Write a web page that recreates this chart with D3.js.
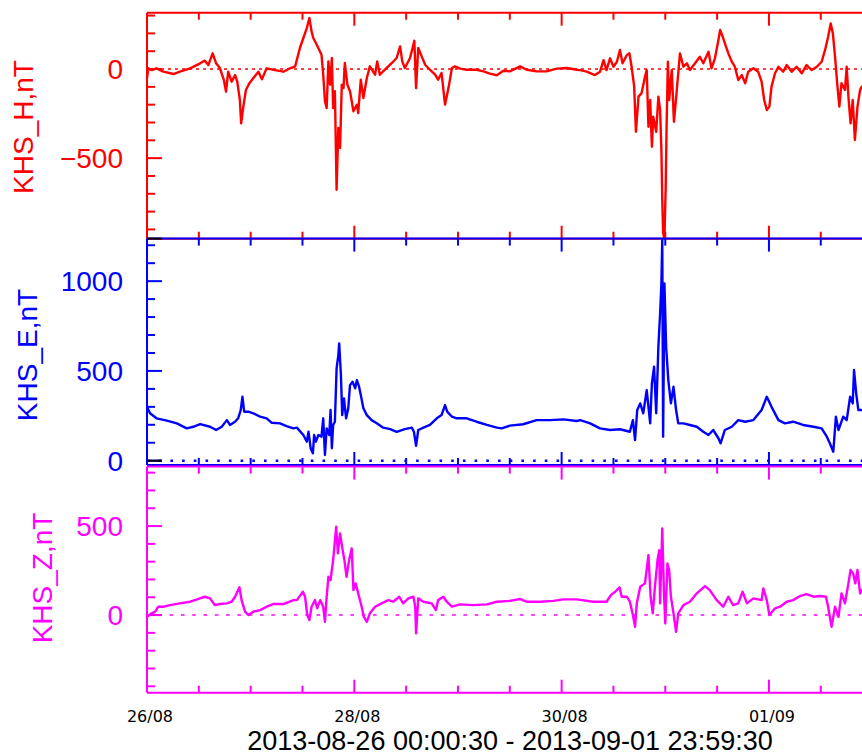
<!DOCTYPE html>
<html><head><meta charset="utf-8">
<script src="https://cdn.jsdelivr.net/npm/d3@7"></script>
<style>html,body{margin:0;padding:0;background:#fff;overflow:hidden}</style>
</head><body>
<svg id="chart" width="862" height="755"></svg>
<script>
// ---- data (hours since 2013-08-26 00:00 UTC, values in nT) ----
const hHours = [0.0,0.3,1.1,2.2,3.8,6.1,7.6,10.0,12.3,13.4,14.2,15.2,16.0,16.9,17.8,18.3,18.8,19.6,20.4,20.9,21.5,21.8,22.3,22.9,23.7,24.6,25.8,26.6,27.7,29.6,31.6,33.1,34.3,35.4,36.2,37.0,37.6,38.1,38.5,39.3,40.4,40.8,41.2,41.6,42.0,42.4,42.8,43.1,43.5,43.9,44.3,44.7,45.1,45.5,45.8,46.4,47.0,47.8,48.6,48.9,49.5,50.1,50.9,51.6,52.8,53.3,53.9,55.5,56.7,57.8,58.6,59.1,59.7,60.9,61.9,62.3,62.8,63.6,64.4,65.5,66.7,67.4,68.2,69.0,69.8,70.6,71.3,72.5,74.0,76.3,77.9,79.4,81.0,82.5,84.0,86.4,87.9,90.2,92.5,94.9,97.2,99.5,100.3,101.8,103.7,104.9,105.7,106.4,107.2,108.0,108.8,109.5,110.1,111.1,111.7,112.2,112.8,113.2,113.8,114.5,115.3,115.7,116.1,116.5,116.9,117.2,117.9,118.4,118.8,119.1,119.3,119.5,119.8,120.1,120.3,120.6,120.9,121.5,122.0,122.6,123.4,124.2,125.0,125.7,126.9,128.0,128.8,130.0,130.7,131.5,132.3,132.7,133.3,133.8,134.6,135.4,136.1,136.9,137.7,138.5,139.2,140.4,141.5,142.3,142.9,143.5,144.1,144.6,145.4,146.2,147.3,148.1,149.3,150.4,151.6,152.7,153.9,155.1,156.2,157.0,157.7,158.3,158.8,159.3,159.8,160.3,160.8,161.6,162.0,162.4,162.9,163.4,163.9,164.5,165.1,165.5,166.5,167.9];
const hValues = [-52,4,-6,4,-15,-28,-15,4,32,47,22,88,32,4,-62,-127,-15,-71,-34,-71,-174,-305,-211,-118,-80,-52,-15,-58,4,-6,-15,4,15,118,174,230,286,211,174,136,80,-32,-181,-219,43,-88,62,-219,-125,-677,-331,-443,-88,-107,34,-88,-125,-237,-200,-247,-60,-163,-50,15,-32,43,-32,6,34,62,127,43,6,62,159,-107,118,71,24,-4,-32,-60,-22,-200,-107,6,15,2,-4,-4,-13,-26,-35,-10,-13,15,-4,-13,-13,2,6,-4,-6,-15,-34,-15,50,-6,60,13,41,107,32,79,88,13,-99,-352,-155,-136,-43,-6,-324,-174,-436,-268,-352,-155,-230,-454,-735,-920,-952,-660,-324,41,-174,-6,-296,-136,88,13,32,-6,32,69,32,97,4,60,163,219,181,144,88,41,13,-62,-34,-80,-15,4,-15,-71,-174,-230,-211,-99,-24,13,-15,22,-15,13,-24,22,-6,13,41,107,181,256,200,69,-80,-211,-80,-118,13,-155,-305,-174,-398,-211,-118,-99,-90,-80];

const eHours = [0.0,0.7,2.2,4.6,6.9,9.2,10.7,12.3,14.6,16.0,17.3,18.5,19.2,20.4,21.1,21.7,22.1,22.5,23.5,24.6,26.2,27.7,28.9,30.8,32.3,33.9,34.7,36.2,37.0,37.4,37.9,38.4,38.7,39.1,39.7,40.4,40.8,41.2,41.6,42.2,42.5,42.8,43.1,43.5,43.9,44.3,44.5,44.9,45.2,45.6,46.1,46.6,47.0,47.6,48.2,48.6,49.1,49.5,50.1,50.9,52.0,53.2,54.7,56.3,57.8,59.7,61.3,61.8,62.3,62.8,64.0,65.5,67.1,68.2,69.0,69.5,70.6,71.7,74.0,76.3,78.7,81.0,82.1,84.0,87.1,90.2,93.3,96.4,99.5,100.3,102.6,104.9,107.2,109.5,111.8,112.5,113.0,113.5,114.2,114.9,115.7,116.5,116.9,117.4,117.9,118.4,118.8,119.1,119.3,119.5,119.8,120.2,120.7,121.3,121.9,122.5,123.0,124.2,125.7,127.3,128.8,130.0,131.1,132.3,132.8,133.8,135.4,136.9,138.5,140.4,142.3,143.5,144.6,146.2,147.7,149.6,151.9,154.3,156.2,157.4,158.1,158.9,159.5,160.1,161.2,162.0,162.8,163.4,163.7,164.2,164.7,165.5,167.0,168.0];
const eValues = [300,264,236,223,208,180,189,204,189,171,189,226,199,217,236,282,356,273,273,264,245,236,211,208,193,180,184,143,106,161,69,41,143,106,143,134,236,32,180,143,282,69,199,217,514,588,653,477,254,347,236,292,421,440,403,449,412,366,292,254,226,208,184,176,161,176,184,161,83,171,184,199,236,254,310,273,245,236,236,217,199,184,180,195,203,226,226,230,221,226,208,180,171,175,161,226,115,282,319,264,393,208,431,523,264,634,820,987,1230,134,987,634,449,319,412,282,208,208,199,189,161,143,171,125,97,171,189,226,217,226,282,356,300,226,208,217,199,189,180,134,97,50,245,171,245,226,356,319,505,375,282,282,260,250];

const zHours = [0.0,1.1,1.9,2.6,3.8,5.3,7.6,10.0,12.3,13.4,14.6,15.7,16.9,18.5,19.6,20.4,21.4,21.9,22.7,23.5,24.6,26.2,27.7,29.2,31.6,33.9,34.7,36.1,36.6,37.1,37.6,38.1,38.9,39.4,40.1,40.8,41.2,41.6,42.0,42.5,43.1,43.8,44.2,44.7,45.3,45.7,46.2,46.8,47.4,47.8,48.3,48.9,49.7,50.2,50.9,51.6,52.8,54.3,55.9,57.0,58.4,59.3,60.5,61.7,62.1,62.3,62.8,64.0,65.9,66.9,67.4,68.6,69.4,70.6,72.5,75.6,78.7,81.0,84.0,86.4,87.9,91.0,94.1,96.4,99.5,103.3,106.4,107.4,108.4,109.4,109.9,111.1,111.8,112.5,113.0,113.4,114.2,115.3,116.1,116.6,117.1,117.6,118.2,118.6,118.8,119.3,119.7,120.0,120.5,120.9,121.3,121.9,122.5,123.0,124.2,125.7,127.3,129.2,130.3,131.9,133.4,134.6,135.7,136.9,137.9,138.9,140.4,142.3,142.7,143.5,144.1,145.4,146.6,148.1,149.6,151.2,152.7,154.3,155.8,157.2,157.7,158.5,159.3,160.1,160.8,161.6,162.4,162.9,163.5,164.0,164.5,165.1,165.5,167.0,168.0];
const zValues = [-10,10,19,47,47,56,66,75,94,103,94,56,62,66,75,103,156,84,19,0,19,28,47,62,62,84,84,131,103,0,-28,47,84,38,84,47,-38,103,215,197,309,496,347,459,365,309,215,309,375,140,178,122,47,-10,-38,10,47,66,84,75,103,66,94,103,47,-103,94,75,66,28,84,103,75,47,60,56,60,75,80,90,75,75,80,88,88,75,75,112,131,156,103,103,75,0,-66,66,159,178,337,103,10,159,309,365,66,487,122,-47,290,253,103,10,-94,10,56,75,122,163,140,84,47,103,56,66,131,66,94,84,150,84,0,38,47,75,84,107,118,103,107,103,47,-66,47,-10,122,66,178,253,234,178,253,122,140,150,130];

const xTickLabels = ["26/08","28/08","30/08","01/09"];
const dateRangeText = "2013-08-26 00:00:30 - 2013-09-01 23:59:30";

// ---- layout ----
const svg = d3.select("#chart");
const t0 = Date.UTC(2013,7,26);
const toDate = h => new Date(t0 + h*3600e3);
const x = d3.scaleUtc().domain([toDate(0), toDate(168)]).range([147, 872.6]);
const LEFT = 147, RIGHT = 880;
const LABEL_FONT = "'Liberation Sans', Arial, sans-serif";

const panels = [
  {title:"KHS_H,nT", color:"#ff0000", top:12.7, bottom:238.7, domain:[-952,316], hours:hHours, values:hValues,
   zeroDash:"3,4", zeroW:1.4, titleX:33.3, titleY:127},
  {title:"KHS_E,nT", color:"#0000ff", top:238.6, bottom:465, domain:[-24,1237], hours:eHours, values:eValues,
   zeroDash:"2.6,9.1", zeroW:2.6, titleX:36.8, titleY:355},
  {title:"KHS_Z,nT", color:"#ff00ff", top:466.6, bottom:692.7, domain:[-436,834], hours:zHours, values:zValues,
   zeroDash:"3.6,7.7", zeroW:1.5, titleX:51.7, titleY:578}
];

const xTicks = d3.utcHour.every(12).range(toDate(0), toDate(168.01));
const parseLbl = s => { const [d,m] = s.split("/").map(Number); return Date.UTC(2013, m-1, d); };
const majorTimes = new Set(xTickLabels.map(parseLbl));

panels.forEach((p, i) => {
  const y = d3.scaleLinear().domain(p.domain).range([p.bottom, p.top]);
  const g = svg.append("g");
  const clipId = "clip"+i;
  svg.append("clipPath").attr("id", clipId).append("rect")
    .attr("x", LEFT).attr("y", p.top).attr("width", RIGHT-LEFT).attr("height", p.bottom-p.top);

  // zero reference line
  g.append("line").attr("x1", LEFT).attr("x2", RIGHT).attr("y1", y(0)).attr("y2", y(0))
    .attr("stroke", p.color).attr("stroke-width", p.zeroW).attr("stroke-dasharray", p.zeroDash);

  // data line
  const pts = p.hours.map((h,k) => [toDate(h), p.values[k]]);
  g.append("path").datum(pts)
    .attr("clip-path", `url(#${clipId})`)
    .attr("fill","none").attr("stroke", p.color).attr("stroke-width", 2.4).attr("stroke-linejoin","round")
    .attr("d", d3.line().x(d => x(d[0])).y(d => y(d[1])));

  // borders
  [p.top, p.bottom].forEach(yy => g.append("line").attr("x1", LEFT).attr("x2", RIGHT)
    .attr("y1", yy).attr("y2", yy).attr("stroke", p.color).attr("stroke-width", 2));
  g.append("line").attr("x1", LEFT).attr("x2", LEFT).attr("y1", p.top).attr("y2", p.bottom)
    .attr("stroke", p.color).attr("stroke-width", 2);

  // x ticks (inward at top and bottom)
  xTicks.forEach(d => {
    const xx = x(d);
    if (xx <= LEFT + 1) return;
    const len = majorTimes.has(+d) ? 13 : 7;
    g.append("line").attr("x1", xx).attr("x2", xx).attr("y1", p.top).attr("y2", p.top+len)
      .attr("stroke", p.color).attr("stroke-width", 2);
    g.append("line").attr("x1", xx).attr("x2", xx).attr("y1", p.bottom).attr("y2", p.bottom-len)
      .attr("stroke", p.color).attr("stroke-width", 2);
  });

  // y ticks (inward)
  const yTicks = d3.range(Math.ceil(p.domain[0]/100)*100, p.domain[1]+1, 100);
  yTicks.forEach(v => {
    const major = v % 500 === 0;
    g.append("line").attr("x1", LEFT).attr("x2", LEFT + (major ? 15 : 8))
      .attr("y1", y(v)).attr("y2", y(v)).attr("stroke", p.color).attr("stroke-width", 2);
    if (major) {
      g.append("text").attr("x", 123).attr("y", y(v)).attr("dy", "0.36em")
        .attr("text-anchor","end").attr("fill", p.color)
        .style("font-family", LABEL_FONT).style("font-size","28px")
        .text(d3.format("d")(v));
    }
  });

  // axis title
  g.append("text").attr("transform", `translate(${p.titleX},${p.titleY}) rotate(-90)`)
    .attr("text-anchor","middle").attr("fill", p.color)
    .style("font-family", LABEL_FONT).style("font-size","28px")
    .text(p.title);
});

// small black marks at the E-panel boundary ticks
const yE = d3.scaleLinear().domain(panels[1].domain).range([panels[1].bottom, panels[1].top]);
[panels[1].top, yE(0)].forEach(yy => svg.append("line").attr("x1", LEFT).attr("x2", LEFT+15)
  .attr("y1", yy).attr("y2", yy).attr("stroke", "#000").attr("stroke-width", 2));

// x tick labels
xTickLabels.forEach(s => {
  svg.append("text").attr("x", x(new Date(parseLbl(s))) + 3).attr("y", 721.5)
    .attr("text-anchor","middle").attr("fill","#000")
    .style("font-family","'DejaVu Sans', sans-serif").style("font-size","16px")
    .text(s);
});

// date range title
svg.append("text").attr("x", 510).attr("y", 749.5).attr("text-anchor","middle").attr("fill","#000")
  .style("font-family", LABEL_FONT).style("font-size","27px")
  .text(dateRangeText);
</script>
</body></html>
